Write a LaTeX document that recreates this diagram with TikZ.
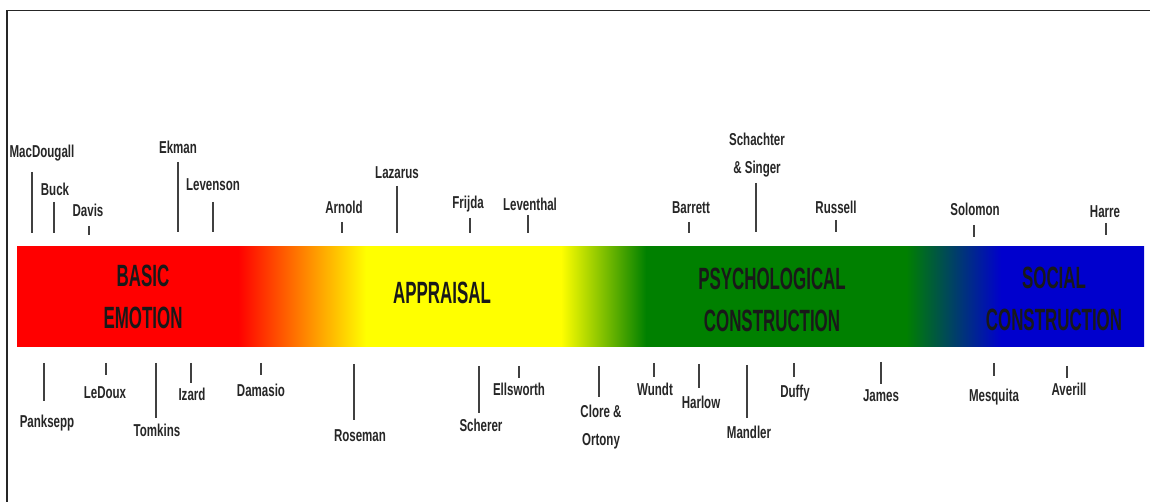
\documentclass[tikz,border=0pt]{standalone}
\usepackage{fontspec}
\setmainfont{Liberation Sans}
\newfontfamily\scholarfont{Liberation Sans}[FakeStretch=0.67]
\newfontfamily\theoryfont{Liberation Sans}[FakeStretch=0.55]

\begin{document}
\begin{tikzpicture}[x=0.02cm, y=-0.02cm,
    scholar/.style={anchor=base, inner sep=0pt, align=center, text=black!85,
        font=\scholarfont\bfseries\fontsize{9.8}{16.4}\selectfont},
    theory/.style={anchor=base, inner sep=0pt, align=center, text=black!90,
        font=\theoryfont\bfseries\fontsize{17.5}{24}\selectfont},
    tickline/.style={black!75, line width=0.8pt}]
    \definecolor{band_red}{RGB}{255,0,0}
    \definecolor{band_yellow}{RGB}{255,255,0}
    \definecolor{band_green}{RGB}{0,128,0}
    \definecolor{band_blue}{RGB}{0,0,205}
    % stops: 25bp = left end of the band, 75bp = right end
    \pgfdeclarehorizontalshading{band}{100bp}{%
        color(0bp)=(band_red); color(34.8bp)=(band_red);
        color(40.48bp)=(band_yellow); color(49.13bp)=(band_yellow);
        color(52.91bp)=(band_green); color(64.44bp)=(band_green);
        color(68.66bp)=(band_blue); color(100bp)=(band_blue)}
    \useasboundingbox (0,0) rectangle (1150,502);
    % \draw[help lines, step=50] (0,0) grid (1150,502);
    \draw[black!85, line width=1.1pt] (7,502) -- (7,10.5) -- (1150,10.5);

    % colour band
    \shade[shading=band] (17,247) rectangle (1144,347);

    \node[theory] (basic) at (143,329) {BASIC\\EMOTION};
    \node[theory] (appraisal) at (442,304) {APPRAISAL};
    \node[theory] (psych) at (772,332) {PSYCHOLOGICAL\\CONSTRUCTION};
    \node[theory] (social) at (1054,331) {SOCIAL\\CONSTRUCTION};

    % names above the band
    \node[scholar] (macdougall) at (42,158) {MacDougall};
    \node[scholar] (buck) at (55,196) {Buck};
    \node[scholar] (davis) at (88,217) {Davis};
    \node[scholar] (ekman) at (178,154) {Ekman};
    \node[scholar] (levenson) at (213,191) {Levenson};
    \node[scholar] (arnold) at (344,214) {Arnold};
    \node[scholar] (lazarus) at (397,179) {Lazarus};
    \node[scholar] (frijda) at (468,209) {Frijda};
    \node[scholar] (leventhal) at (530,211) {Leventhal};
    \node[scholar] (barrett) at (691,214) {Barrett};
    \node[scholar] (schachter) at (757,174) {Schachter\\\& Singer};
    \node[scholar] (russell) at (836,214) {Russell};
    \node[scholar] (solomon) at (975,216) {Solomon};
    \node[scholar] (harre) at (1105,218) {Harre};

    \draw[tickline] (32,172) -- (32,233);
    \draw[tickline] (54,202) -- (54,233);
    \draw[tickline] (89,226) -- (89,235);
    \draw[tickline] (178,162) -- (178,232);
    \draw[tickline] (213,202) -- (213,232);
    \draw[tickline] (342,222) -- (342,233);
    \draw[tickline] (397,186) -- (397,233);
    \draw[tickline] (470,218) -- (470,233);
    \draw[tickline] (528,215) -- (528,233);
    \draw[tickline] (689,222) -- (689,233);
    \draw[tickline] (756,183) -- (756,232);
    \draw[tickline] (836,220) -- (836,232);
    \draw[tickline] (974,225) -- (974,237);
    \draw[tickline] (1106,223) -- (1106,235);

    % names below the band
    \node[scholar] (panksepp) at (47,428) {Panksepp};
    \node[scholar] (ledoux) at (105,399) {LeDoux};
    \node[scholar] (tomkins) at (157,437) {Tomkins};
    \node[scholar] (izard) at (192,401) {Izard};
    \node[scholar] (damasio) at (261,397) {Damasio};
    \node[scholar] (roseman) at (360,442) {Roseman};
    \node[scholar] (scherer) at (481,432) {Scherer};
    \node[scholar] (ellsworth) at (519,396) {Ellsworth};
    \node[scholar] (clore) at (601,446) {Clore \&\\Ortony};
    \node[scholar] (wundt) at (655,396) {Wundt};
    \node[scholar] (harlow) at (701,409) {Harlow};
    \node[scholar] (mandler) at (749,439) {Mandler};
    \node[scholar] (duffy) at (795,398) {Duffy};
    \node[scholar] (james) at (881,402) {James};
    \node[scholar] (mesquita) at (994,402) {Mesquita};
    \node[scholar] (averill) at (1069,396) {Averill};

    \draw[tickline] (44,363) -- (44,401);
    \draw[tickline] (106,363) -- (106,375);
    \draw[tickline] (156,363) -- (156,418);
    \draw[tickline] (191,363) -- (191,383);
    \draw[tickline] (261,363) -- (261,375);
    \draw[tickline] (354,364) -- (354,420);
    \draw[tickline] (479,366) -- (479,413);
    \draw[tickline] (519,366) -- (519,378);
    \draw[tickline] (599,366) -- (599,397);
    \draw[tickline] (654,363) -- (654,377);
    \draw[tickline] (699,364) -- (699,388);
    \draw[tickline] (747,365) -- (747,418);
    \draw[tickline] (794,363) -- (794,377);
    \draw[tickline] (881,362) -- (881,384);
    \draw[tickline] (994,363) -- (994,376);
    \draw[tickline] (1067,366) -- (1067,378);
\end{tikzpicture}
\end{document}
